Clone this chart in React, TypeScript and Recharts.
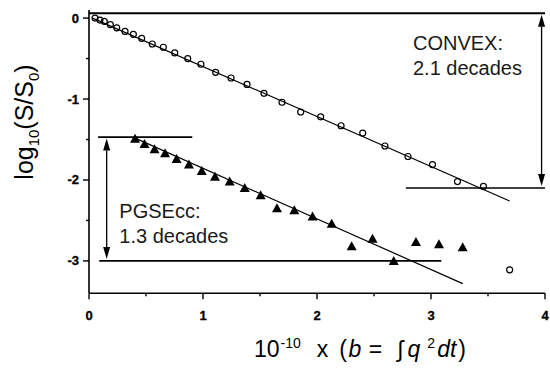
import React from 'react'
import { ScatterChart, Scatter, XAxis, YAxis, ReferenceLine, ReferenceDot } from 'recharts'

// CONVEX (open circles)
const convexX = [0.053, 0.096, 0.134, 0.187, 0.243, 0.316, 0.389, 0.462, 0.555, 0.652, 0.752, 0.866, 0.982, 1.111, 1.246, 1.386, 1.535, 1.693, 1.857, 2.032, 2.211, 2.401, 2.596, 2.798, 3.013, 3.232, 3.46, 3.69]
const convexY = [0.0, -0.025, -0.04, -0.08, -0.12, -0.165, -0.2, -0.25, -0.32, -0.36, -0.43, -0.5, -0.57, -0.67, -0.74, -0.82, -0.93, -1.04, -1.16, -1.22, -1.33, -1.42, -1.58, -1.71, -1.81, -2.02, -2.08, -3.11]

// PGSEcc (filled triangles)
const pgseX = [0.404, 0.487, 0.575, 0.667, 0.768, 0.877, 0.989, 1.105, 1.234, 1.366, 1.506, 1.649, 1.801, 1.961, 2.129, 2.304, 2.487, 2.673, 2.868, 3.07, 3.278]
const pgseY = [-1.49, -1.555, -1.62, -1.67, -1.74, -1.81, -1.89, -1.96, -2.02, -2.1, -2.19, -2.35, -2.375, -2.45, -2.54, -2.82, -2.725, -3.0, -2.765, -2.795, -2.83]

// fitted lines
const convexFit = [{ x: 0.03, y: 0.0 }, { x: 3.69, y: -2.26 }]
const pgseFit = [{ x: 0.4, y: -1.48 }, { x: 3.278, y: -3.28 }]

// decade markers
const convexTop = [{ x: 0, y: 0.06 }, { x: 4, y: 0.06 }]
const convexBottom = [{ x: 2.78, y: -2.1 }, { x: 4, y: -2.1 }]
const convexArrow = [{ x: 3.97, y: 0.06 }, { x: 3.97, y: -2.1 }]
const pgseTop = [{ x: 0.08, y: -1.47 }, { x: 0.906, y: -1.47 }]
const pgseBottom = [{ x: 0.09, y: -3.0 }, { x: 3.09, y: -3.0 }]
const pgseArrow = [{ x: 0.155, y: -1.47 }, { x: 0.155, y: -3.0 }]

const xTicks = [0, 0.5, 1, 1.5, 2, 2.5, 3, 3.5, 4]
const yTicks = [-3, -2.5, -2, -1.5, -1, -0.5, 0]

const convex = convexX.map((x, i) => ({ x, y: convexY[i] }))
const pgse = pgseX.map((x, i) => ({ x, y: pgseY[i] }))

const FONT = '"Liberation Sans", Arial, sans-serif'
const TICK_SIZE = 6
const TICK_MARGIN = 12

const XTick = (props: any) => {
  const { x, y, payload } = props
  const major = Number.isInteger(payload.value)
  const axisY = y - TICK_SIZE - TICK_MARGIN
  return (
    <g>
      <line x1={x} x2={x} y1={axisY} y2={axisY + (major ? 6 : 3)} stroke="#000" strokeWidth={1.4} />
      {major && (
        <text x={x} y={y} dy={9} textAnchor="middle" style={{ fontFamily: FONT, fontWeight: 700, fontSize: 13 }} fill="#000" stroke="#000" strokeWidth={0.3}>
          {payload.value}
        </text>
      )}
    </g>
  )
}

const YTick = (props: any) => {
  const { x, y, payload } = props
  const major = Number.isInteger(payload.value)
  const axisX = x + TICK_SIZE + 4
  return (
    <g>
      <line x1={axisX} x2={axisX - (major ? 6 : 3)} y1={y} y2={y} stroke="#000" strokeWidth={1.4} />
      {major && (
        <text x={x} y={y} dy={4.5} textAnchor="end" style={{ fontFamily: FONT, fontWeight: 700, fontSize: 13 }} fill="#000" stroke="#000" strokeWidth={0.3}>
          {payload.value}
        </text>
      )}
    </g>
  )
}

const XLabel = (props: any) => {
  const vb = props.viewBox
  return (
    <text x={vb.x + 165} y={vb.y + 64} style={{ fontFamily: FONT, fontSize: 23 }} fill="#000">
      <tspan>10</tspan>
      <tspan fontSize={14} dy={-9} dx={1}>-10</tspan>
      <tspan dy={9} dx={16}>x</tspan>
      <tspan dx={11}>(</tspan>
      <tspan dx={1.5} fontStyle="italic">b</tspan>
      <tspan dx={7.5}>=</tspan>
      <tspan dx={15}>∫</tspan>
      <tspan dx={4} fontStyle="italic">q</tspan>
      <tspan fontSize={14} dy={-9} dx={7}>2</tspan>
      <tspan dy={9} dx={2} fontStyle="italic">dt</tspan>
      <tspan dx={2}>)</tspan>
    </text>
  )
}

const YLabel = (props: any) => {
  const vb = props.viewBox
  const cx = vb.x + 4
  const cy = vb.y + 112
  return (
    <text x={cx} y={cy} transform={`rotate(-90 ${cx} ${cy})`} textAnchor="middle" style={{ fontFamily: FONT, fontSize: 25 }} fill="#000">
      <tspan>log</tspan>
      <tspan fontSize={15} dy={6}>10</tspan>
      <tspan dy={-6}>(S/S</tspan>
      <tspan fontSize={15} dy={6}>0</tspan>
      <tspan dy={-6}>)</tspan>
    </text>
  )
}

const Circle = (props: any) => (
  <circle cx={props.cx} cy={props.cy} r={3} fill="none" stroke="#000" strokeWidth={1.2} />
)

const Triangle = (props: any) => {
  const { cx, cy } = props
  return <polygon points={`${cx},${cy - 5} ${cx - 5},${cy + 4} ${cx + 5},${cy + 4}`} fill="#000" />
}

const Arrow = (props: any) => {
  const { x1, y1, x2, y2 } = props
  const x = (x1 + x2) / 2
  const top = Math.min(y1, y2) + 1.5
  const bot = Math.max(y1, y2) - 2
  const h = 12
  const w = 3.5
  return (
    <g>
      <line x1={x} x2={x} y1={top + h} y2={bot - h} stroke="#000" strokeWidth={1.3} />
      <polygon points={`${x},${top} ${x - w},${top + h} ${x + w},${top + h}`} fill="#000" />
      <polygon points={`${x},${bot} ${x - w},${bot - h} ${x + w},${bot - h}`} fill="#000" />
    </g>
  )
}

const note = (text: string) => (props: any) => (
  <text x={props.cx} y={props.cy} style={{ fontFamily: FONT, fontSize: 20 }} fill="#1a1a1a">{text}</text>
)

export default function App() {
  return (
    <div>
      <style>{'body{margin:0;background:#fff}'}</style>
      <ScatterChart width={550} height={374} margin={{ top: 10, right: 5, left: 29, bottom: 40.7 }}>
        <XAxis
          type="number" dataKey="x" domain={[0, 4]} ticks={xTicks} height={40}
          tickSize={TICK_SIZE} tickMargin={TICK_MARGIN} tickLine={false}
          axisLine={{ stroke: '#000', strokeWidth: 1.6 }}
          tick={<XTick />} label={(p: any) => <XLabel {...p} />} allowDataOverflow
        />
        <YAxis
          type="number" dataKey="y" domain={[-3.4, 0.1]} ticks={yTicks} width={60}
          tickSize={TICK_SIZE} tickMargin={4} tickLine={false}
          axisLine={{ stroke: '#000', strokeWidth: 1.6 }}
          tick={<YTick />} label={(p: any) => <YLabel {...p} />} allowDataOverflow
        />

        <ReferenceLine segment={convexFit} stroke="#000" strokeWidth={1.2} />
        <ReferenceLine segment={pgseFit} stroke="#000" strokeWidth={1.2} />

        <ReferenceLine segment={convexTop} stroke="#000" strokeWidth={2} />
        <ReferenceLine segment={convexBottom} stroke="#000" strokeWidth={1.6} />
        <ReferenceLine segment={convexArrow} shape={(p: any) => <Arrow {...p} />} />
        <ReferenceLine segment={pgseTop} stroke="#000" strokeWidth={1.6} />
        <ReferenceLine segment={pgseBottom} stroke="#000" strokeWidth={1.6} />
        <ReferenceLine segment={pgseArrow} shape={(p: any) => <Arrow {...p} />} />

        <ReferenceDot x={2.842} y={-0.391} r={0} shape={note('CONVEX:')} />
        <ReferenceDot x={2.842} y={-0.7} r={0} shape={note('2.1 decades')} />
        <ReferenceDot x={0.266} y={-2.469} r={0} shape={note('PGSEcc:')} />
        <ReferenceDot x={0.266} y={-2.778} r={0} shape={note('1.3 decades')} />

        <Scatter data={convex} shape={<Circle />} isAnimationActive={false} />
        <Scatter data={pgse} shape={<Triangle />} isAnimationActive={false} />
      </ScatterChart>
    </div>
  )
}
